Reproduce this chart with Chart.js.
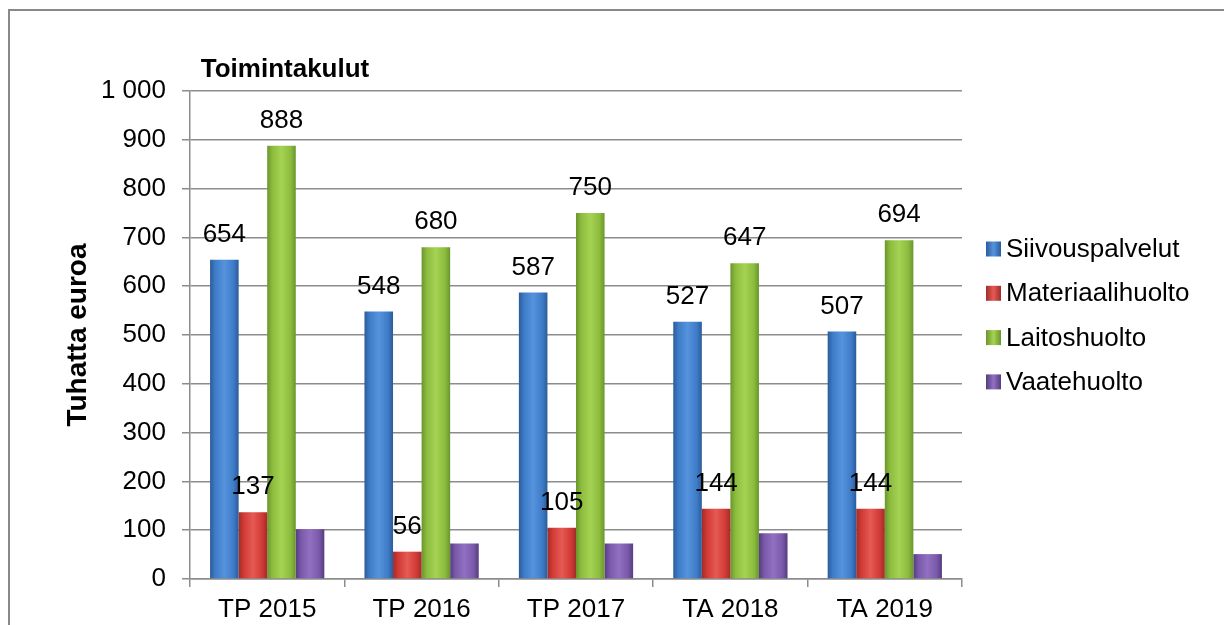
<!DOCTYPE html>
<html><head><meta charset="utf-8">
<script src="https://cdn.jsdelivr.net/npm/chart.js@4.4.1/dist/chart.umd.min.js"></script>
<style>html,body{margin:0;padding:0;background:#fff;overflow:hidden}</style>
</head><body>
<canvas id="c" width="1224" height="625" style="display:block;width:1224px;height:625px"></canvas>
<script>
const categories = ['TP 2015', 'TP 2016', 'TP 2017', 'TA 2018', 'TA 2019'];
const siivouspalvelut = [654, 548, 587, 527, 507];
const materiaalihuolto = [137, 56, 105, 144, 144];
const laitoshuolto = [888, 680, 750, 647, 694];
const vaatehuolto = [102, 73, 73, 94, 51];
const seriesNames = ['Siivouspalvelut', 'Materiaalihuolto', 'Laitoshuolto', 'Vaatehuolto'];
const labelledSeries = [0, 1, 2];
const chartTitle = 'Toimintakulut';
const yTitle = 'Tuhatta euroa';

const FONT = "'Liberation Sans', Arial, sans-serif";
const palette = [
  { edge: '#2b5b99', mid: '#3f7cc8', light: '#5593dd' },
  { edge: '#a02c29', mid: '#d23a35', light: '#e55a54' },
  { edge: '#6a952c', mid: '#8cbc3e', light: '#a5d253' },
  { edge: '#553c80', mid: '#7a58aa', light: '#9170c2' }
];
const CAT_PCT = 0.74;

function barFill(ci) {
  return function (ctx) {
    const chart = ctx.chart;
    const p = palette[ci];
    const xs = chart.scales && chart.scales.x;
    if (!chart.chartArea || !xs || ctx.type !== 'data') return p.mid;
    const catW = xs.width / categories.length;
    const bw = catW * CAT_PCT / seriesNames.length;
    const cx = xs.getPixelForValue(ctx.dataIndex) + (ci - (seriesNames.length - 1) / 2) * bw;
    const g = chart.ctx.createLinearGradient(cx - bw / 2, 0, cx + bw / 2, 0);
    g.addColorStop(0, p.edge);
    g.addColorStop(0.18, p.mid);
    g.addColorStop(0.5, p.light);
    g.addColorStop(0.82, p.mid);
    g.addColorStop(1, p.edge);
    return g;
  };
}

const seriesData = [siivouspalvelut, materiaalihuolto, laitoshuolto, vaatehuolto];
const datasets = seriesData.map((d, i) => ({
  label: seriesNames[i],
  data: d,
  backgroundColor: barFill(i),
  borderColor: palette[i].edge,
  borderWidth: 0,
  categoryPercentage: CAT_PCT,
  barPercentage: 1
}));

const framePlugin = {
  id: 'frame',
  beforeDraw(chart) {
    const c = chart.ctx;
    c.save();
    c.fillStyle = '#fff';
    c.fillRect(0, 0, chart.width, chart.height);
    c.strokeStyle = '#898989';
    c.lineWidth = 2;
    c.strokeRect(9, 10, chart.width + 50, chart.height + 50);
    c.restore();
  },
  afterDraw(chart) {
    const c = chart.ctx;
    c.save();
    // title
    c.font = 'bold 26px ' + FONT;
    c.fillStyle = '#000';
    c.textAlign = 'center';
    c.textBaseline = 'middle';
    c.fillText(chartTitle, 285, 70);
    // legend
    c.font = '26px ' + FONT;
    c.textAlign = 'left';
    const rowY0 = 249, rowStep = 44.3;
    chart.data.datasets.forEach((ds, i) => {
      const y = rowY0 + i * rowStep;
      const p = palette[i];
      const g = c.createLinearGradient(986, 0, 1001, 0);
      g.addColorStop(0, p.edge); g.addColorStop(0.5, p.light); g.addColorStop(1, p.edge);
      c.fillStyle = g;
      c.fillRect(986, y - 7.5, 15, 15);
      c.fillStyle = '#000';
      c.fillText(ds.label, 1006, y + 1);
    });
    c.restore();
  },
  afterDatasetsDraw(chart) {
    const c = chart.ctx;
    c.save();
    c.font = '26px ' + FONT;
    c.fillStyle = '#000';
    c.textAlign = 'center';
    c.textBaseline = 'middle';
    labelledSeries.forEach(si => {
      const meta = chart.getDatasetMeta(si);
      meta.data.forEach((bar, i) => {
        c.fillText(String(chart.data.datasets[si].data[i]), bar.x, bar.y - 25);
      });
    });
    c.restore();
  }
};

const gridColor = '#8c8c8c';
new Chart(document.getElementById('c'), {
  type: 'bar',
  data: { labels: categories, datasets },
  options: {
    responsive: false,
    animation: false,
    events: [],
    devicePixelRatio: 1,
    layout: { padding: { left: 0, right: 262, top: 91, bottom: 0 } },
    plugins: { legend: { display: false }, title: { display: false }, tooltip: { enabled: false } },
    scales: {
      x: {
        offset: true,
        grid: { display: true, drawOnChartArea: false, offset: true, tickLength: 8, color: gridColor, lineWidth: 1.5 },
        border: { display: true, color: gridColor, width: 1.5 },
        ticks: { font: { family: FONT, size: 26 }, color: '#000', padding: 7, maxRotation: 0, autoSkip: false },
        afterFit(scale) { scale.height = 46; }
      },
      y: {
        min: 0, max: 1000,
        grid: { color: gridColor, lineWidth: 1.5, tickLength: 8 },
        border: { display: true, color: gridColor, width: 1.5 },
        ticks: {
          stepSize: 100,
          font: { family: FONT, size: 26 }, color: '#000', padding: 16,
          callback: v => String(v).replace(/\B(?=(\d{3})+(?!\d))/g, ' ')
        },
        title: { display: true, text: yTitle, font: { family: FONT, size: 28, weight: 'bold' }, color: '#000', padding: { top: 61, bottom: 0 } },
        afterFit(scale) { scale.width = 190; }
      }
    }
  },
  plugins: [framePlugin]
});
</script>
</body></html>
